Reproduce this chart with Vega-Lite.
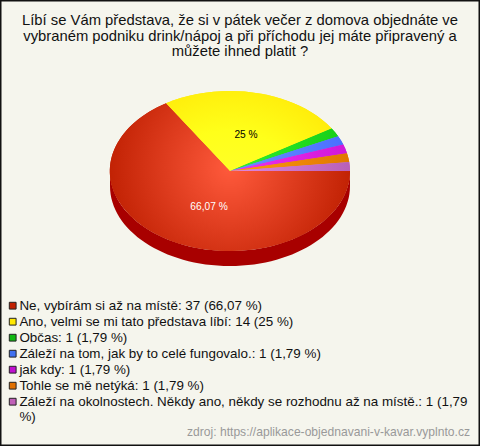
{"$schema":"https://vega.github.io/schema/vega-lite/v6.json","width":480,"height":446,"autosize":"none","padding":0,"background":"#f5f5ed",
"view":{"stroke":"#111111","strokeWidth":3},
"title":{"text":["Líbí se Vám představa, že si v pátek večer z domova objednáte ve","vybraném podniku drink/nápoj a při příchodu jej máte připravený a","můžete ihned platit ?"],"font":"Liberation Sans","fontSize":14.8,"fontWeight":"normal","color":"#111111","anchor":"middle","frame":"group","lineHeight":15.5,"baseline":"top","offset":-59},
"data":{"values":[
{"slice":"ne","answer":"Ne, vybírám si až na místě: 37 (66,07 %)","count":37,"pct":"66,07 %"},
{"slice":"ano","answer":"Ano, velmi se mi tato představa líbí: 14 (25 %)","count":14,"pct":"25 %"},
{"slice":"obcas","answer":"Občas: 1 (1,79 %)","count":1,"pct":"1,79 %"},
{"slice":"zalezi_tom","answer":"Záleží na tom, jak by to celé fungovalo.: 1 (1,79 %)","count":1,"pct":"1,79 %"},
{"slice":"jak_kdy","answer":"jak kdy: 1 (1,79 %)","count":1,"pct":"1,79 %"},
{"slice":"tohle","answer":"Tohle se mě netýká: 1 (1,79 %)","count":1,"pct":"1,79 %"},
{"slice":"zalezi_okol","answer":"Záleží na okolnostech. Někdy ano, někdy se rozhodnu až na místě.: 1 (1,79 %)","count":1,"pct":"1,79 %"}]},
"layer":[
{"transform":[{"filter":"datum.slice=='ne'"}],"mark":{"type":"point","filled":true,"opacity":1,"size":57600,"xOffset":-10,"yOffset":-52,"fill":"#a80000","shape":"M-1,0 A1,.6667 0 0 0 1,0 L1,.125 A1,.6667 0 0 1 -1,.125 Z"}},
{"mark":{"type":"point","filled":true,"opacity":1,"size":57600,"xOffset":-10,"yOffset":-52},
"encoding":{"shape":{"field":"slice","type":"nominal","legend":null,"scale":{"domain":["ne","ano","obcas","zalezi_tom","jak_kdy","tohle","zalezi_okol"],
"range":["M0,0 L1,0 A1,.6667 0 1 1 -.5321,-.5645 Z","M0,0 L-.5321,-.5645 A1,.6667 0 0 1 .8467,-.3547 Z","M0,0 L.8467,-.3547 A1,.6667 0 0 1 .9010,-.2893 Z","M0,0 L.9010,-.2893 A1,.6667 0 0 1 .9439,-.2202 Z","M0,0 L.9439,-.2202 A1,.6667 0 0 1 .9749,-.1484 Z","M0,0 L.9749,-.1484 A1,.6667 0 0 1 .9937,-.0747 Z","M0,0 L.9937,-.0747 A1,.6667 0 0 1 1,0 Z"]}},
"fill":{"field":"answer","type":"nominal","scale":{"domain":["Ne, vybírám si až na místě: 37 (66,07 %)","Ano, velmi se mi tato představa líbí: 14 (25 %)","Občas: 1 (1,79 %)","Záleží na tom, jak by to celé fungovalo.: 1 (1,79 %)","jak kdy: 1 (1,79 %)","Tohle se mě netýká: 1 (1,79 %)","Záleží na okolnostech. Někdy ano, někdy se rozhodnu až na místě.: 1 (1,79 %)"],"range":["#c02000","#ffe800","#10b810","#4070f0","#c010d0","#e07000","#c060b8"]},
"legend":{"title":null,"orient":"none","legendX":6,"legendY":299,"padding":0,"symbolType":"square","symbolSize":46,"symbolStrokeColor":"#222222","symbolStrokeWidth":1,"symbolOpacity":1,"labelFont":"Liberation Sans","labelFontSize":13.4,"labelColor":"#111111","labelLimit":480,"rowPadding":1,"labelOffset":0,"labelExpr":"indexof(datum.label,'okolnostech')>=0 ? ['Záleží na okolnostech. Někdy ano, někdy se rozhodnu až na místě.: 1 (1,79','%)'] : datum.label"}}}},
{"transform":[{"filter":"datum.slice=='ne'"}],"mark":{"type":"point","filled":true,"opacity":1,"size":57600,"xOffset":-10,"yOffset":-52,"shape":"M0,0 L1,0 A1,.6667 0 1 1 -.5321,-.5645 Z","fill":{"gradient":"radial","x1":0.5,"y1":0.458,"r1":0,"x2":0.5,"y2":0.458,"r2":0.54,"stops":[{"offset":0,"color":"#ff5a3c"},{"offset":1,"color":"#bd1e00"}]}}},
{"transform":[{"filter":"datum.slice=='ano'"}],"mark":{"type":"point","filled":true,"opacity":1,"size":57600,"xOffset":-10,"yOffset":-52,"shape":"M0,0 L-.5321,-.5645 A1,.6667 0 0 1 .8467,-.3547 Z","fill":{"gradient":"radial","x1":0.386,"y1":1,"r1":0,"x2":0.386,"y2":1,"r2":1,"stops":[{"offset":0,"color":"#ffff33"},{"offset":0.5,"color":"#ffff1a"},{"offset":1,"color":"#ffe000"}]}}},
{"transform":[{"filter":"datum.slice=='obcas'"}],"mark":{"type":"point","filled":true,"opacity":1,"size":57600,"xOffset":-10,"yOffset":-52,"shape":"M0,0 L.8467,-.3547 A1,.6667 0 0 1 .9010,-.2893 Z","fill":{"gradient":"linear","x1":0,"y1":0,"x2":1,"y2":0,"stops":[{"offset":0,"color":"#30f030"},{"offset":1,"color":"#18d018"}]}}},
{"transform":[{"filter":"datum.slice=='zalezi_tom'"}],"mark":{"type":"point","filled":true,"opacity":1,"size":57600,"xOffset":-10,"yOffset":-52,"shape":"M0,0 L.9010,-.2893 A1,.6667 0 0 1 .9439,-.2202 Z","fill":{"gradient":"linear","x1":0,"y1":0,"x2":1,"y2":0,"stops":[{"offset":0,"color":"#6a90ff"},{"offset":1,"color":"#4a70ff"}]}}},
{"transform":[{"filter":"datum.slice=='jak_kdy'"}],"mark":{"type":"point","filled":true,"opacity":1,"size":57600,"xOffset":-10,"yOffset":-52,"shape":"M0,0 L.9439,-.2202 A1,.6667 0 0 1 .9749,-.1484 Z","fill":{"gradient":"linear","x1":0,"y1":0,"x2":1,"y2":0,"stops":[{"offset":0,"color":"#f030f0"},{"offset":1,"color":"#d018d8"}]}}},
{"transform":[{"filter":"datum.slice=='tohle'"}],"mark":{"type":"point","filled":true,"opacity":1,"size":57600,"xOffset":-10,"yOffset":-52,"shape":"M0,0 L.9749,-.1484 A1,.6667 0 0 1 .9937,-.0747 Z","fill":{"gradient":"linear","x1":0,"y1":0,"x2":1,"y2":0,"stops":[{"offset":0,"color":"#ff9a10"},{"offset":1,"color":"#e07800"}]}}},
{"transform":[{"filter":"datum.slice=='zalezi_okol'"}],"mark":{"type":"point","filled":true,"opacity":1,"size":57600,"xOffset":-10,"yOffset":-52,"shape":"M0,0 L.9937,-.0747 A1,.6667 0 0 1 1,0 Z","fill":{"gradient":"linear","x1":0,"y1":0,"x2":1,"y2":0,"stops":[{"offset":0,"color":"#e088e0"},{"offset":1,"color":"#b860b8"}]}}},
{"transform":[{"filter":"datum.slice=='ne'"}],"mark":{"type":"text","font":"Liberation Sans","fontSize":10.2,"color":"#ffffff","xOffset":-31,"yOffset":-16},"encoding":{"text":{"field":"pct"}}},
{"transform":[{"filter":"datum.slice=='ano'"}],"mark":{"type":"text","font":"Liberation Sans","fontSize":10.2,"color":"#000000","xOffset":6,"yOffset":-88.5},"encoding":{"text":{"field":"pct"}}},
{"data":{"values":[{"source":"zdroj: https://aplikace-objednavani-v-kavar.vyplnto.cz"}]},"mark":{"type":"text","font":"Liberation Sans","fontSize":12.1,"color":"#999999","align":"right","x":{"expr":"width-10"},"y":{"expr":"height-14"}},"encoding":{"text":{"field":"source"}}}
]}
